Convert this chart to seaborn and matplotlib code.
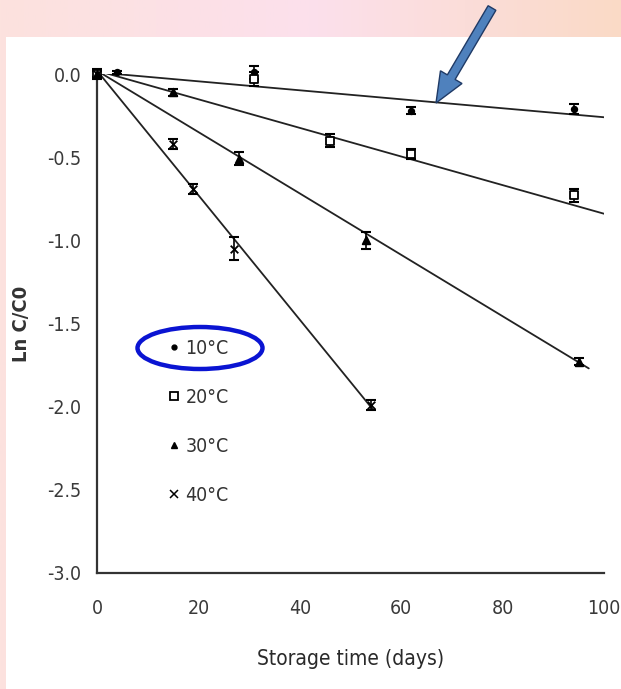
import numpy as np
import pandas as pd
import matplotlib
matplotlib.use("Agg")
import matplotlib.pyplot as plt
import seaborn as sns
from matplotlib.lines import Line2D
from matplotlib.patches import Rectangle, Ellipse, FancyArrow

# ---------------- data ----------------
labels = ["10°C", "20°C", "30°C", "40°C"]

days_10 = [0, 4, 31, 62, 94]
vals_10 = [0.0, 0.01, 0.01, -0.22, -0.21]
err_10 = [0.02, 0.01, 0.04, 0.02, 0.03]

days_20 = [0, 31, 46, 62, 94]
vals_20 = [0.0, -0.03, -0.40, -0.48, -0.73]
err_20 = [0.03, 0.04, 0.04, 0.03, 0.04]

days_30 = [0, 15, 28, 53, 95]
vals_30 = [0.0, -0.11, -0.51, -1.00, -1.73]
err_30 = [0.02, 0.02, 0.04, 0.05, 0.02]

days_40 = [0, 15, 19, 27, 54]
vals_40 = [0.0, -0.42, -0.69, -1.05, -1.99]
err_40 = [0.02, 0.03, 0.03, 0.07, 0.03]

# fitted regression lines (start and end points)
fit_start_day = [0, 0, 0, 0]
fit_start_val = [0.01, 0.02, 0.02, 0.02]
fit_end_day = [100, 100, 97, 54.5]
fit_end_val = [-0.26, -0.84, -1.77, -2.02]

x_ticks = [0, 20, 40, 60, 80, 100]
y_ticks = [0.0, -0.5, -1.0, -1.5, -2.0, -2.5, -3.0]

# ---------------- style ----------------
sns.set_theme(style="white")
plt.rcParams["font.family"] = ["DejaVu Sans"]
plt.rcParams["font.stretch"] = "condensed"
COND = dict(fontstretch="condensed")

W, H = 621, 689
fig = plt.figure(figsize=(W / 100, H / 100), dpi=100)

# background gradient (pink/peach)
bg = fig.add_axes([0, 0, 1, 1], zorder=-10)
xs = np.linspace(0, 1, 256)
c_left = np.array([252, 226, 222]) / 255
c_mid = np.array([252, 224, 236]) / 255
c_right = np.array([250, 218, 198]) / 255
grad = np.where(xs[:, None] < 0.5,
                c_left + (c_mid - c_left) * (xs[:, None] / 0.5),
                c_mid + (c_right - c_mid) * ((xs[:, None] - 0.5) / 0.5))
bg.imshow(grad[None, :, :], aspect="auto", extent=[0, 1, 0, 1])
bg.set_xlim(0, 1)
bg.set_ylim(0, 1)
bg.axis("off")
bg.add_patch(Rectangle((6 / W, 0), 1, 1 - 37 / H, facecolor="white",
                       edgecolor="none"))

# main axes
ax = fig.add_axes([97 / W, 1 - 573 / H, (604 - 97) / W, (573 - 74) / H])
ax.set_facecolor("none")

# regression lines
rows = []
for lab, d0, v0, d1, v1 in zip(labels, fit_start_day, fit_start_val,
                                fit_end_day, fit_end_val):
    rows.append({"series": lab, "day": d0, "val": v0})
    rows.append({"series": lab, "day": d1, "val": v1})
fit_df = pd.DataFrame(rows)
sns.lineplot(data=fit_df, x="day", y="val", hue="series",
             palette=["#222222"] * 4, legend=False, lw=1.3, ax=ax,
             estimator=None, sort=False)

series = [
    (labels[0], days_10, vals_10, err_10, "o", 16, "black"),
    (labels[1], days_20, vals_20, err_20, "s", 38, "white"),
    (labels[2], days_30, vals_30, err_30, "^", 30, "black"),
    (labels[3], days_40, vals_40, err_40, "x", 30, "black"),
]
for lab, d, v, e, m, s, fc in series:
    ax.errorbar(d, v, yerr=e, fmt="none", ecolor="black", elinewidth=1.2,
                capsize=3.5, capthick=1.5, clip_on=False, zorder=3)
    df = pd.DataFrame({"day": d, "val": v})
    sns.scatterplot(data=df, x="day", y="val", marker=m, s=s,
                    color="black" if m != "s" else "white",
                    edgecolor="black", linewidth=1.3, ax=ax, zorder=4,
                    clip_on=False)

ax.set_xlim(0, 100)
ax.set_ylim(-3.0, 0.0)
ax.set_xticks(x_ticks)
ax.set_xticklabels([str(t) for t in x_ticks], **COND)
ax.set_yticks(y_ticks)
ax.set_yticklabels([f"{t:.1f}" for t in y_ticks], **COND)
for sp in ["top", "right"]:
    ax.spines[sp].set_visible(False)
for sp in ["left", "bottom"]:
    ax.spines[sp].set_color("#333333")
    ax.spines[sp].set_linewidth(1.6)
ax.tick_params(axis="both", direction="out", length=6, width=1.4,
               color="#333333", labelsize=14, labelcolor="#3a3a3a")
ax.tick_params(axis="x", pad=13)
ax.tick_params(axis="y", pad=5)
ax.set_xlabel("Storage time (days)", fontsize=15, color="#2a2a2a",
              labelpad=22, **COND)
ax.set_ylabel("Ln C/C0", fontsize=14.5, fontweight="bold", color="#333333",
              labelpad=12)
ax.grid(False)

# legend
handles = [
    Line2D([], [], ls="none", marker="o", ms=3.5, color="black"),
    Line2D([], [], ls="none", marker="s", ms=6, mfc="white", mec="black",
           mew=1.3),
    Line2D([], [], ls="none", marker="^", ms=5, color="black"),
    Line2D([], [], ls="none", marker="x", ms=5.5, color="black", mew=1.1),
]
leg = ax.legend(handles, labels, loc="upper left",
                bbox_to_anchor=(160 / W, 1 - 331 / H),
                bbox_transform=fig.transFigure, frameon=False,
                handlelength=0.6, handletextpad=0.3, labelspacing=1.55,
                fontsize=14, borderaxespad=0)
for t in leg.get_texts():
    t.set_color("#333333")
    t.set_fontstretch("condensed")

# annotations: arrow and ellipse in pixel-based inch coordinates
tr = fig.dpi_scale_trans
def px(x, y):
    return x / 100, (H - y) / 100

tx, ty = px(492, 8)
hx, hy = px(436, 103)
arrow = FancyArrow(tx, ty, hx - tx, hy - ty, width=0.09, head_width=0.25,
                   head_length=0.3, length_includes_head=True,
                   facecolor="#4f81bd", edgecolor="#1f3a66", lw=1.0,
                   transform=tr, zorder=20)
fig.patches.append(arrow)
arrow.set_figure(fig)

ex, ey = px(200, 348)
ell = Ellipse((ex, ey), 1.25, 0.42, fill=False, edgecolor="#0a14d2",
              lw=3.2, transform=tr, zorder=20)
fig.patches.append(ell)
ell.set_figure(fig)

fig.savefig("out.png", dpi=100)
